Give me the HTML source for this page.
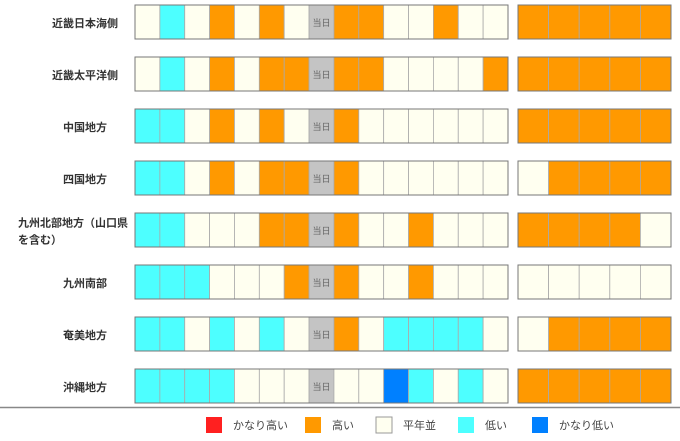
<!DOCTYPE html>
<html><head><meta charset="utf-8"><style>
body{margin:0;background:#fff;width:680px;height:441px;overflow:hidden}
svg{display:block;font-family:"Liberation Sans","Noto Sans CJK JP",sans-serif}
</style></head><body>
<svg id="c" width="680" height="441"></svg>
<script>
const regions=["近畿日本海側","近畿太平洋側","中国地方","四国地方","九州北部地方（山口県\nを含む）","九州南部","奄美地方","沖縄地方"];
const dailyRows=[
"WCWOWOWTOOWWOWW","WCWOWOOTOOWWWWO","CCWOWOWTOWWWWWW","CCWOWOOTOWWWWWW",
"CCWWWOOTOWWOWWW","CCCWWWOTOWWOWWW","CCWCWCWTOWCCCCW","CCCCWWWTWWBCWCW"];
const weeklyRows=["OOOOO","OOOOO","OOOOO","WOOOO","OOOOW","WWWWW","WOOOO","OOOOO"];
const legendLabels=["かなり高い","高い","平年並","低い","かなり低い"];
const legendKeys=["R","O","W","C","B"];
const col={R:"#ff2020",O:"#ff9900",W:"#fffff0",C:"#4dffff",B:"#0080ff",T:"#c4c4c4"};
const svg=document.getElementById('c');const NS="http://www.w3.org/2000/svg";
function mk(t,a,p){const e=document.createElementNS(NS,t);for(const k in a)e.setAttribute(k,a[k]);(p||svg).appendChild(e);return e;}
const L0=135,LW=373,R0=518,RW=153,top0=5,pitch=52,h=34;
regions.forEach((r,i)=>{
 const y=top0+i*pitch;
 const g=mk('g',{});
 
 
 const lines=r.split("\n");
 lines.forEach((ln,j)=>{
  const t=mk('text',{x:lines.length>1?18:85,y:y+h/2+5+(lines.length>1?(j-0.5)*17:0),'font-size':11,'font-weight':'bold',fill:'#333','text-anchor':lines.length>1?'start':'middle'},g);
  t.textContent=ln;
  
  
 });
 const d=dailyRows[i],cw=LW/d.length;
 for(let k=0;k<d.length;k++){
  const c=mk('rect',{x:L0+k*cw,y:y,width:cw,height:h,fill:col[d[k]],stroke:'#aaa','stroke-width':0.8},g);
  
  
  if(d[k]==='T'){const t=mk('text',{x:L0+k*cw+cw/2,y:y+h/2+4,'font-size':9,fill:'#666','text-anchor':'middle'},g);t.textContent="当日";
   
   }
 }
 mk('rect',{x:L0,y:y,width:LW,height:h,fill:'none',stroke:'#777','stroke-width':1},g);
 const w=weeklyRows[i],ww=RW/w.length;
 for(let k=0;k<w.length;k++){
  const c=mk('rect',{x:R0+k*ww,y:y,width:ww,height:h,fill:col[w[k]],stroke:'#aaa','stroke-width':0.8},g);
  
  
 }
 mk('rect',{x:R0,y:y,width:RW,height:h,fill:'none',stroke:'#777','stroke-width':1},g);
});
mk('line',{x1:0,x2:680,y1:407.5,y2:407.5,stroke:'#888','stroke-width':1.5});
const lx=[206,305,376,458,532];
legendLabels.forEach((l,i)=>{
 const g=mk('g',{});
 
 
 mk('rect',{x:lx[i],y:417,width:16,height:16,fill:col[legendKeys[i]],stroke:legendKeys[i]==='W'?'#999':'none'},g);
 const t=mk('text',{x:lx[i]+27,y:429,'font-size':11,fill:'#444'},g);t.textContent=l;
});
</script>
</body></html>
